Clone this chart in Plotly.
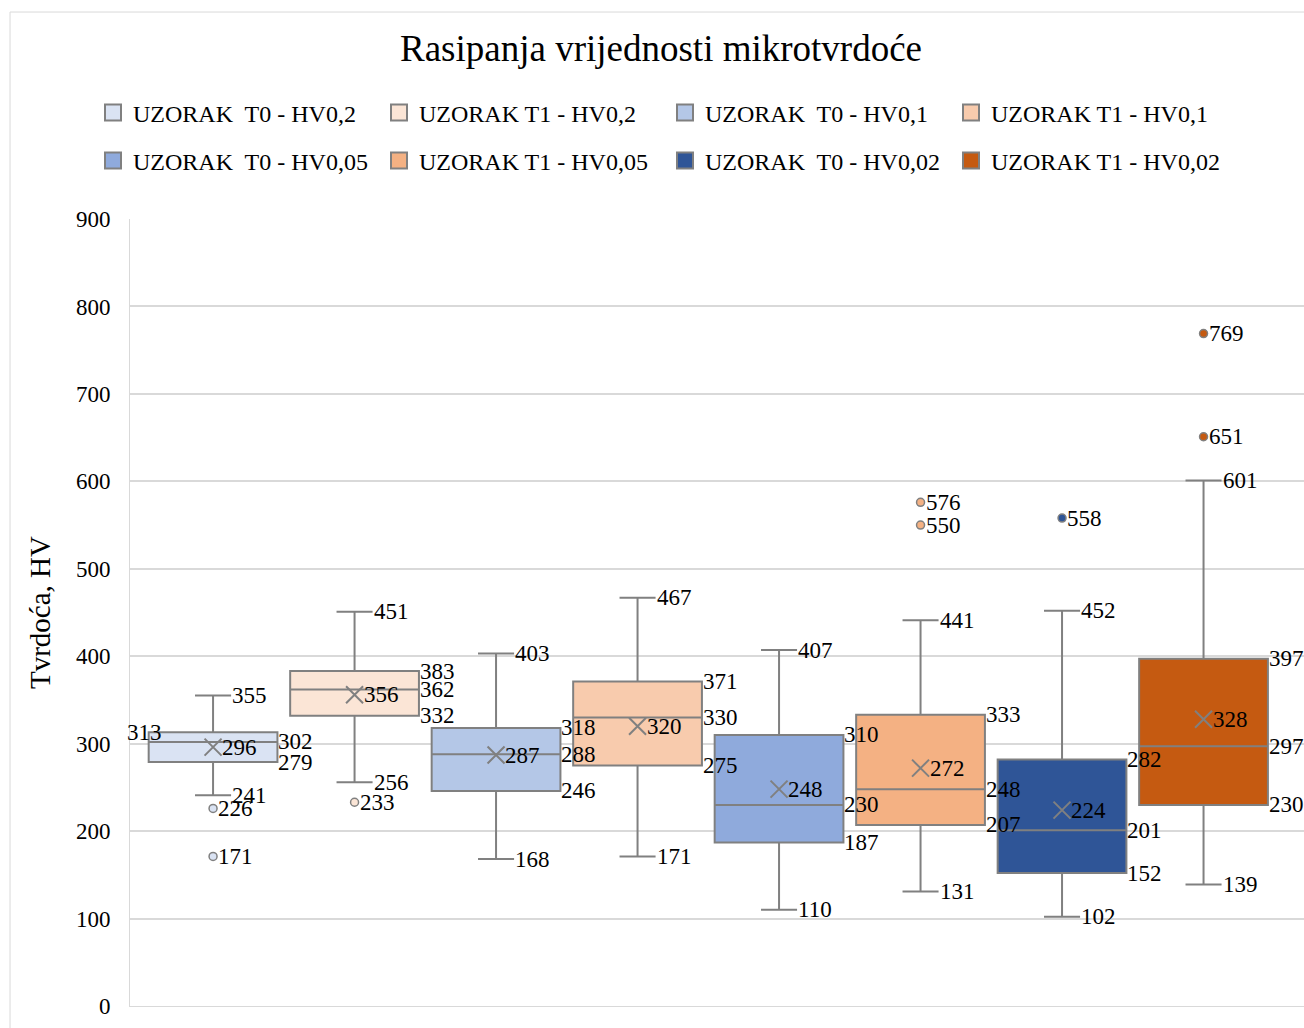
"""
Box plot of microhardness scatter for samples T0 and T1 at different loads.
"""

import plotly.graph_objects as go

# Series names (legend order)
names = [
    "UZORAK\u00a0 T0 - HV0,2",
    "UZORAK T1 - HV0,2",
    "UZORAK\u00a0 T0 - HV0,1",
    "UZORAK T1 - HV0,1",
    "UZORAK\u00a0 T0 - HV0,05",
    "UZORAK T1 - HV0,05",
    "UZORAK\u00a0 T0 - HV0,02",
    "UZORAK T1 - HV0,02",
]

# Box statistics
lower_whisker = [241, 256, 168, 171, 110, 131, 102, 139]
q1 = [279, 332, 246, 275, 187, 207, 152, 230]
median = [302, 362, 288, 330, 230, 248, 201, 297]
q3 = [313, 383, 318, 371, 310, 333, 282, 397]
upper_whisker = [355, 451, 403, 467, 407, 441, 452, 601]
mean = [296, 356, 287, 320, 248, 272, 224, 328]
outliers = [[226, 171], [233], [], [], [], [576, 550], [558], [769, 651]]

colors = [
    "#DAE3F3", "#FBE5D6", "#B4C7E7", "#F8CBAD",
    "#8FAADC", "#F4B183", "#2F5597", "#C55A11",
]

FONT = "Liberation Serif"
GRAY = "#808080"
GRID = "#D9D9D9"
BOX_WIDTH = 0.91
WHISKER_WIDTH = 0.28

W, H = 1304, 1028


def _label(fig, x, y, text, xshift=-1, xanchor="left"):
    """Add a value label next to a box element."""
    fig.add_annotation(
        x=x, y=y, text=str(text), showarrow=False,
        xanchor=xanchor, yanchor="middle", xshift=xshift,
        font=dict(family=FONT, size=23, color="#000000"),
    )


fig = go.Figure()

for i, name in enumerate(names):
    legend = "legend" if i < 4 else "legend2"
    fig.add_trace(
        go.Box(
            x=[i],
            q1=[q1[i]],
            median=[median[i]],
            q3=[q3[i]],
            lowerfence=[lower_whisker[i]],
            upperfence=[upper_whisker[i]],
            name=name,
            width=BOX_WIDTH,
            whiskerwidth=WHISKER_WIDTH,
            fillcolor=colors[i],
            line=dict(color=GRAY, width=2),
            boxpoints=False,
            hoverinfo="skip",
            showlegend=False,
        )
    )

    # Legend entry with a larger square swatch
    fig.add_trace(
        go.Scatter(
            x=[None], y=[None], mode="markers", name=name, legend=legend,
            marker=dict(symbol="square", size=19, color=colors[i],
                        line=dict(color=GRAY, width=2)),
        )
    )

    # Mean marker
    fig.add_trace(
        go.Scatter(
            x=[i], y=[mean[i]], mode="markers", showlegend=False,
            marker=dict(symbol="x-thin", size=17, line=dict(color=GRAY, width=2)),
            hoverinfo="skip",
        )
    )

    # Outlier points
    if outliers[i]:
        fig.add_trace(
            go.Scatter(
                x=[i] * len(outliers[i]), y=outliers[i], mode="markers",
                showlegend=False,
                marker=dict(symbol="circle", size=8, color=colors[i],
                            line=dict(color=GRAY, width=1.5)),
                hoverinfo="skip",
            )
        )

    # Value labels
    box_right = i + BOX_WIDTH / 2
    cap_right = i + BOX_WIDTH * WHISKER_WIDTH / 2
    if i == 0:
        _label(fig, i - BOX_WIDTH / 2, q3[i], q3[i], xshift=-4, xanchor="center")
    else:
        _label(fig, box_right, q3[i], q3[i])
    _label(fig, box_right, median[i], median[i])
    _label(fig, box_right, q1[i], q1[i])
    _label(fig, cap_right, upper_whisker[i], upper_whisker[i])
    _label(fig, cap_right, lower_whisker[i], lower_whisker[i])
    _label(fig, i, mean[i], mean[i], xshift=7)
    for v in outliers[i]:
        _label(fig, i, v, v, xshift=3)

# Chart frame (partly cut off like the original)
fig.add_shape(
    type="rect", xref="paper", yref="paper",
    x0=-0.1022, y0=-0.2, x1=1.2, y1=1.263,
    line=dict(color=GRID, width=1), layer="below",
)

legend_style = dict(
    orientation="h",
    xref="container", yref="container",
    x=93 / W, xanchor="left", yanchor="middle",
    entrywidth=241, entrywidthmode="pixels",
    font=dict(family=FONT, size=24, color="#000000"),
    bgcolor="rgba(0,0,0,0)",
)

fig.update_layout(
    width=W,
    height=H,
    margin=dict(l=130, r=0, t=219, b=22, autoexpand=False),
    paper_bgcolor="white",
    plot_bgcolor="white",
    boxmode="overlay",
    title=dict(
        text="Rasipanja vrijednosti mikrotvrdoće",
        x=661 / W, xanchor="center", y=1 - 48 / H, yanchor="middle",
        font=dict(family=FONT, size=37, color="#000000"),
    ),
    legend=dict(legend_style, y=1 - 113 / H),
    legend2=dict(legend_style, y=1 - 161 / H),
    xaxis=dict(
        range=[-0.587, 7.71],
        showticklabels=False,
        showgrid=False,
        zeroline=False,
        showline=True,
        linecolor=GRID,
        linewidth=1,
    ),
    yaxis=dict(
        range=[0, 900],
        dtick=100,
        showgrid=True,
        gridcolor=GRID,
        gridwidth=1.5,
        zeroline=False,
        showline=True,
        linecolor=GRID,
        ticks="",
        ticklabelstandoff=14,
        automargin=False,
        tickfont=dict(family=FONT, size=23, color="#000000"),
        title=dict(
            text="Tvrdoća, HV",
            font=dict(family=FONT, size=29, color="#000000"),
            standoff=16,
        ),
    ),
)

# Drop the default page margin so the figure fills the window exactly
fig.write_html(
    "out.html",
    config={"displayModeBar": False},
    post_script="document.body.style.margin = '0px';",
)
